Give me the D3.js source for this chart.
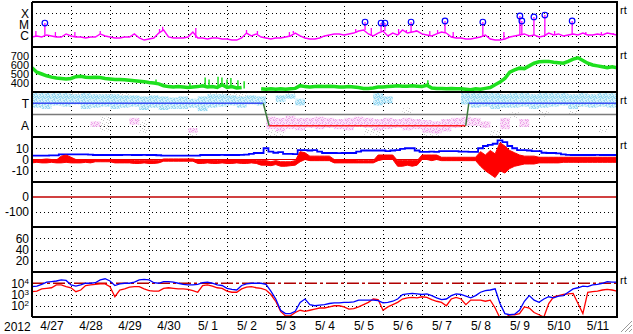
<!DOCTYPE html>
<html><head><meta charset="utf-8">
<script src="https://cdn.jsdelivr.net/npm/d3@7"></script>
<style>body{margin:0;background:#fff}svg{display:block}text{font-family:"Liberation Sans",Arial,sans-serif;fill:#000}</style>
</head><body><svg id="c" width="633" height="334"></svg>
<script>
// ---------------- DATA ----------------
const yearLabel = "2012";
const dayLabels = ["4/27","4/28","4/29","4/30","5/ 1","5/ 2","5/ 3","5/ 4","5/ 5","5/ 6","5/ 7","5/ 8","5/ 9","5/10","5/11"];
const STEP = 0.125; // days between samples (3 h), start 2012-04-27 00UT
const BIN = 0.25;   // days per polarity bin (6 h)

// GOES X-ray flux, log10 W/m2
const xrayLog = [
-6.11,-6.02,-6.11,-5.93,-6.02,-6.11,-6.11,-5.84,-6.02,-6.11,
-6.11,-6.20,-6.11,-6.11,-5.84,-6.02,-6.11,-6.20,-6.20,-6.11,
-6.11,-5.84,-6.20,-6.38,-6.29,-6.20,-5.76,-5.49,-6.11,-6.20,
-6.20,-6.20,-6.11,-5.67,-6.20,-6.20,-6.29,-6.20,-6.20,-6.29,
-6.29,-6.38,-6.38,-6.20,-5.76,-6.02,-5.84,-6.11,-6.20,-6.29,
-6.20,-6.20,-6.11,-6.02,-5.76,-6.02,-6.20,-6.29,-6.29,-6.20,
-6.02,-5.93,-5.84,-5.84,-5.93,-5.84,-5.76,-5.58,-5.49,-5.84,
-6.02,-5.76,-5.58,-6.02,-5.76,-5.93,-5.49,-5.76,-5.67,-5.58,
-5.84,-5.93,-6.02,-5.84,-5.67,-5.76,-6.11,-6.20,-6.20,-6.29,
-6.29,-6.20,-6.11,-5.93,-6.29,-6.38,-6.38,-6.29,-6.11,-6.02,
-5.93,-5.84,-6.02,-5.93,-6.11,-6.02,-5.76,-5.93,-5.84,-6.02,
-5.93,-5.84,-5.93,-5.76,-5.93,-5.93,-5.84,-5.93,-5.76,-5.84,
-5.93];
// X-ray spikes [day, log10 peak]; peaks >= M class get a circle
const xraySpikes = [
[0.10,-5.58],[0.33,-4.87],[0.60,-5.67],[1.10,-5.67],[1.75,-5.58],[3.27,-5.40],[3.35,-5.20],
[4.20,-5.31],[5.50,-5.49],[5.78,-5.58],[6.60,-5.67],[6.70,-5.58],[8.30,-5.40],[8.54,-4.78],
[8.70,-5.30],[8.95,-4.87],[9.05,-4.87],[9.40,-5.40],[9.60,-5.49],[9.72,-4.78],[9.85,-5.49],
[10.20,-5.58],[10.40,-5.49],[10.59,-4.69],[10.80,-5.67],[11.56,-4.78],[12.10,-5.67],
[12.51,-4.24],[12.56,-4.69],[12.87,-4.33],[13.15,-4.16],[13.40,-5.58],[13.85,-4.69],
[14.20,-5.67],[14.60,-5.67],[14.90,-5.76]];

// Solar wind speed km/s
const windSpeed = [
570,520,500,480,465,455,450,445,450,470,
475,465,460,465,460,450,445,440,440,435,
430,425,420,415,405,400,390,370,360,355,
360,355,350,355,360,370,355,360,350,380,
350,360,345,350,null,null,null,335,330,335,
330,335,330,335,340,370,360,355,360,365,
360,365,360,355,355,360,355,350,340,340,
345,355,355,360,365,370,365,365,370,365,
360,375,345,340,340,335,340,335,335,330,
325,335,330,340,350,380,410,450,520,545,
565,560,590,620,635,640,640,630,625,620,
640,665,680,650,620,600,590,580,570,580,
570];
const windSpikes = [[3.18,440],[4.05,400],[4.44,460],[4.54,440],[4.77,470],[4.87,460],[5.00,440],[5.10,455],[5.28,430],[5.44,420],[10.15,430]];

// IMF polarity scatter bands (6-h bins): [hi, lo] in panel units (T=+1, A=-1)
const towardBand = [
[1.95,0.6],[1.95,0.5],[1.9,0.8],[1.9,0.7],[1.8,0.9],[1.9,0.5],[1.8,0.6],[1.8,0.7],[1.8,0.5],[1.7,0.6],
[1.7,0.7],[1.6,0.4],[1.7,0.6],[1.6,0.4],[1.5,0.5],[1.6,0.5],[1.4,0.6],[1.6,0.3],[1.8,0.6],[1.8,0.7],
[1.7,0.8],[1.6,0.6],[1.7,0.9],[1.6,0.8],null,[1.7,1.1],[1.8,1.4],[1.4,0.8],null,null,
null,null,null,null,null,[1.9,0.8],[1.6,1.0],null,null,null,
null,null,null,null,[1.9,0.9],[1.9,0.6],[1.9,0.7],[1.9,0.5],[1.8,0.6],[1.9,0.6],
[1.9,0.7],[1.8,0.5],[1.9,0.6],[1.9,0.7],[1.9,0.8],[1.8,0.5],[1.9,0.7],[1.8,0.6],[1.9,0.7],[1.9,0.6]];
const awayBand = [
null,null,null,null,null,null,[-0.6,-1.1],null,null,null,
[-0.3,-0.9],null,null,null,null,null,[-1.2,-1.6],null,null,null,
null,null,null,null,[-0.2,-1.3],[-0.3,-1.5],[-0.1,-1.3],[-0.3,-1.4],[-0.3,-1.2],[-0.2,-1.3],
[-0.3,-1.2],[-0.4,-1.3],[-0.3,-1.4],[-0.2,-1.1],[-0.3,-1.2],[-0.4,-1.4],[-0.3,-1.3],[-0.4,-1.2],[-0.3,-1.4],[-0.4,-1.3],
[-0.5,-1.6],[-0.6,-1.7],[-0.4,-1.5],[-0.3,-1.2],[-0.2,-1.0],[-0.3,-1.0],[-0.6,-1.2],null,[-0.3,-1.3],null,
[-0.4,-1.1],null,null,null,null,null,null,null,null,null];
const grayBand = [
null,null,[1.9,1.4],[1.9,1.3],[1.9,1.2],[1.2,0.4],null,[-0.2,-1.5],null,[1.9,1.3],
null,[-0.5,-1.7],null,null,null,null,[-1.6,-1.9],null,[2.0,1.3],[2.0,1.2],
[2.0,1.0],[1.9,1.4],null,null,[-1.4,-1.9],[-1.5,-1.9],[1.9,1.5],null,null,null,
null,null,null,null,[-1.3,-1.8],[-1.0,-1.9],null,null,[0.6,0.1],null,
[-1.5,-1.9],[-1.5,-1.9],null,null,null,null,null,[-1.4,-1.9],null,[0.2,-0.3],
null,null,[0.3,-0.2],null,null,[0.3,0.0],null,null,[-1.3,-1.6],null];
// sector polarity line
const sectorDay = [0, 5.93, 6.08, 11.12, 11.2, 15];
const sectorPol = [1, 1, -1, -1, 1, 1];

// IMF Bt and Bz (nT)
const bt = [
3.4,3.4,3.5,3.5,3.6,3.6,4.6,4.6,4.5,4.6,
4.5,4.5,4.4,4,4,4,4,4,4,4.2,
4.2,4,4,4.1,4,4,3.8,3.4,3.4,3.4,
3.5,3.4,3.4,3.5,3.4,4,4,4,4,4.1,
4,4,4,4.2,4.3,5,5.8,5.8,10,7,
6,6.5,5,5,4.8,8.4,8.4,8,8.4,7,
5.8,5.8,5.8,5.6,5.8,5.8,5.8,7,8,8,
8,8,8,7.5,8,8.4,9.5,10,10,8,
6.7,6.7,7,6.7,7.5,7.5,7.5,7.5,7,7,
6.7,6.7,10,12,13,14,17,15.5,12,10,
8.4,8.4,8,7.5,7.5,6,5.8,5.8,5.5,4.5,
4.2,4,4,4,4,4,4.1,4,4,4,
4];
const bzLo = [
-3,-2.5,-3,-3,-2.5,-3,-3,-2.5,-3,-3,
-3,-2.5,-3,-2,-2,-2,-2,-3,-3,-3,
-3,-3.5,-3.5,-3,-3.5,-3.5,-3,-1.5,-1.5,-1.5,
-1.5,-1.5,-1.5,-1.5,-3.5,-3.5,-3,-3.5,-3.5,-3,
-3.5,-3.5,-3,-3.5,-3.5,-3,-3.5,-5,-5,-5.5,
-4.5,-6,-6,-5.5,-5,-2,0,-1,-1,-1,
-1,-1,-3,-3,-3,-3,-3,-3,-3,-3,
-3,-1,0,0,0,-6,-6,-5,-6,-5,
0,0,-1,0,-1,-1,-1,-1,-1,-1,
-1,-1,-6,-10,-13,-16,-10,-12,-8,-6,
-5,-4,-4,-4,-3,-3,-3,-3,-3,-2.5,
-2.5,-2.5,-2.5,-2.5,-2.5,-2.5,-2.5,-2.5,-2.5,-2.5,
-2.5];
const bzHi = [
0,-0.5,0,0.5,0,-0.5,3,4,2,0,
0,-0.5,0,0,0,0,0,-0.5,-0.5,-0.5,
-0.5,-1,-1,-1,-1,-1,-1,0.5,0.5,0.5,
0.5,0.5,0.5,0.5,-0.5,-0.5,-0.5,-0.5,-1,-0.5,
-0.5,-0.5,-0.5,-0.5,-0.5,-0.5,-1,-1,-1,-2,
-1,-2,-2,-2,-1,7,6,3,3,3,
3,3,0,0,0,0,0,-1,-1,-1,
-1,4,4,4,4,-1,-1,-1,-1,-1,
4,4,4,4,2,2,2,2,2,2,
2,2,7,4,8,5,15,12,8,6,
4,3,3,3,2,2,2,2,2,2,
2,2,2,2,2,2,2,2,2,2,
2];

// Dst (nT) reference and electron flux (log10)
const dstLevel = 0;
const electronHi = [
3.7,3.75,3.9,4.1,4.15,4.2,4.3,4.25,3.85,3.75,
3.85,4.0,4.0,4.05,4.3,4.4,4.2,3.8,3.95,4.0,
4.0,4.1,4.3,4.35,4.3,4.05,4.0,4.15,4.15,4.1,
4.0,3.9,3.85,3.85,3.9,4.05,4.1,4.0,3.85,3.8,
3.55,3.45,3.4,3.8,3.95,4.0,4.0,4.0,3.9,3.3,
2.6,1.6,1.3,1.3,1.5,2.3,2.6,2.1,2.0,2.05,
2.1,2.2,2.25,2.25,2.3,2.3,2.35,2.5,2.5,2.5,
2.5,2.45,2.25,2.3,2.4,2.6,3.0,3.05,3.1,3.05,
3.0,3.05,2.9,2.7,2.55,2.6,2.9,3.05,3.0,2.85,
2.7,2.9,3.2,3.35,3.4,3.5,2.2,1.3,1.2,1.25,
1.6,2.4,2.9,2.5,2.3,2.6,2.8,2.7,2.85,2.9,
3.2,3.5,3.6,3.75,3.7,3.85,3.9,4.0,4.15,4.1,
4.1];
const electronLo = [
3.25,3.3,3.5,3.55,3.6,3.85,3.85,3.7,3.6,3.25,
3.4,3.8,3.85,3.9,3.95,3.95,3.7,2.8,3.4,3.5,
3.65,3.7,3.7,3.5,3.35,3.3,3.3,3.55,3.6,3.55,
3.5,3.5,3.45,3.35,3.2,3.8,3.85,3.75,3.6,3.55,
3.3,3.2,3.2,3.5,3.65,3.7,3.6,3.55,3.4,3.0,
2.4,1.5,1.1,1.1,1.4,1.6,1.5,1.6,1.7,1.8,
1.8,1.9,2.0,2.0,1.9,1.7,1.75,1.9,2.1,2.3,
2.6,2.55,1.6,1.9,2.1,2.3,2.6,2.7,2.75,2.7,
2.8,2.75,2.55,2.4,2.3,2.0,2.6,2.75,2.6,2.1,
2.5,2.5,2.5,2.4,2.5,1.8,0.9,0.9,1.2,1.2,
1.3,1.9,1.8,1.4,1.2,1.0,2.2,2.8,2.9,3.0,
3.05,3.1,2.2,1.3,3.2,3.25,3.3,3.4,3.45,3.4,
3.3];
const electronThreshold = 4;

// tick labels
const xrayTicks = [["X",-4],["M",-5],["C",-6]];
const windTicks = [700,600,500,400];
const polTicks = [["T",1],["A",-1]];
const bTicks = [10,0,-10];
const dstTicks = [0,-100];
const p6Ticks = [60,40,20];
const eTicks = [4,3,2];

// ---------------- DRAW ----------------
const svg = d3.select("#c");
const L = 32, R = 617, PH = 45;
const tops = [2,47,92,137,182,227,272];
const x = d3.scaleLinear().domain([0,15]).range([L,R]);
const tAt = i => i*STEP;

const yX  = d3.scaleLinear().domain([-3,-7]).range([tops[0],tops[0]+PH]);
const yW  = d3.scaleLinear().domain([800,300]).range([tops[1],tops[1]+PH]);
const yP  = d3.scaleLinear().domain([2,-2]).range([tops[2],tops[2]+PH]);
const yB  = d3.scaleLinear().domain([20,-20]).range([tops[3],tops[3]+PH]);
const yD  = d3.scaleLinear().domain([100,-200]).range([tops[4],tops[4]+PH]);
const y6  = d3.scaleLinear().domain([80,0]).range([tops[5],tops[5]+PH]);
const yE  = d3.scaleLog().domain([1e5,1e1]).range([tops[6],tops[6]+PH]);

const defs = svg.append("defs");
tops.forEach((tp,i)=>{
  defs.append("clipPath").attr("id","cp"+i).append("rect")
    .attr("x",L).attr("y",tp).attr("width",R-L).attr("height",PH);
});
function pat(id,base,color,pts,w,h){
  const p = defs.append("pattern").attr("id",id).attr("patternUnits","userSpaceOnUse").attr("width",w).attr("height",h);
  if(base) p.append("rect").attr("width",w).attr("height",h).attr("fill",base);
  pts.forEach(([a,b,c,d])=>p.append("rect").attr("x",a).attr("y",b).attr("width",c).attr("height",d).attr("fill",color));
}
pat("pB","#d8f2fb","#98d8f2",[[0,0,2,1],[3,0,1,1],[5,0,1,2],[1,1,1,1],[4,1,1,1],[2,2,2,1],[0,3,1,2],[5,3,1,1],[3,4,2,1],[1,5,1,1],[4,5,1,1],[2,1,1,1],[0,2,1,1]],6,6);
pat("pA","#fbe2f9","#eea6ea",[[0,0,1,1],[3,0,2,1],[1,2,1,1],[4,2,1,2],[2,3,1,1],[0,4,2,1],[3,5,1,1],[5,5,1,1],[5,1,1,1]],6,6);
pat("pG",null,"#c4c4c4",[[1,0,1,1],[4,2,1,1],[2,4,1,1],[5,5,1,1],[0,3,1,1]],6,6);

const grid = svg.append("g").attr("shape-rendering","crispEdges");
function hdot(scale, vals){
  vals.forEach(v=>{
    const yy = Math.round(scale(v))+0.5;
    grid.append("line").attr("x1",L).attr("x2",R).attr("y1",yy).attr("y2",yy)
      .attr("stroke","#000").attr("stroke-dasharray","1,3");
  });
}

// Panel 3 bands drawn first (under grid)
const g3b = svg.append("g").attr("clip-path","url(#cp2)");
function bands(arr, fill){
  arr.forEach((b,k)=>{
    if(!b) return;
    g3b.append("rect").attr("x",x(k*BIN)).attr("width",x(BIN)-x(0))
      .attr("y",yP(b[0])).attr("height",yP(b[1])-yP(b[0])).attr("fill",fill);
  });
}
bands(grayBand,"url(#pG)");
bands(towardBand,"url(#pB)");
bands(awayBand,"url(#pA)");

hdot(yX, xrayTicks.map(d=>d[1]));
hdot(yW, windTicks);
hdot(yP, polTicks.map(d=>d[1]));
hdot(yB, [10,-10]);
hdot(yD, [-100]);
hdot(y6, p6Ticks);
hdot(yE, [1e3,1e2]);
d3.range(1,15).forEach(d=>{
  const xx = Math.round(x(d))+0.5;
  grid.append("line").attr("x1",xx).attr("x2",xx).attr("y1",tops[0]).attr("y2",tops[6]+PH)
    .attr("stroke","#000").attr("stroke-dasharray","1,3");
});

// Panel 1: X-ray
const g1 = svg.append("g").attr("clip-path","url(#cp0)");
g1.selectAll("line.sp").data(xraySpikes).join("line")
  .attr("x1",d=>x(d[0])).attr("x2",d=>x(d[0]))
  .attr("y1",d=>yX(xrayLog[Math.round(d[0]/STEP)])).attr("y2",d=>yX(d[1]))
  .attr("stroke","#ff00ff").attr("stroke-width",1.3);
g1.append("path").datum(xrayLog)
  .attr("d", d3.line().x((d,i)=>x(tAt(i))).y(d=>yX(d)))
  .attr("fill","none").attr("stroke","#ff00ff").attr("stroke-width",1.4);
g1.selectAll("circle").data(xraySpikes.filter(d=>d[1]>=-5)).join("circle")
  .attr("cx",d=>x(d[0])).attr("cy",d=>yX(d[1])).attr("r",2.8)
  .attr("fill","none").attr("stroke","#0000ff").attr("stroke-width",1.2);

// Panel 2: wind speed
const g2 = svg.append("g").attr("clip-path","url(#cp1)");
g2.selectAll("line").data(windSpikes).join("line")
  .attr("x1",d=>x(d[0])).attr("x2",d=>x(d[0]))
  .attr("y1",d=>yW(windSpeed[Math.round(d[0]/STEP)] || 340)).attr("y2",d=>yW(d[1]))
  .attr("stroke","#1ee01e").attr("stroke-width",1.5);
g2.append("path").datum(windSpeed)
  .attr("d", d3.line().defined(d=>d!=null).x((d,i)=>x(tAt(i))).y(d=>yW(d)))
  .attr("fill","none").attr("stroke","#1ee01e").attr("stroke-width",3.5);

// Panel 3: polarity lines
const g3 = svg.append("g").attr("clip-path","url(#cp2)");
g3.append("line").attr("x1",L).attr("x2",R).attr("y1",yP(0)).attr("y2",yP(0))
  .attr("stroke","#7a7a7a").attr("stroke-width",1.5);
for(let i=0;i<sectorDay.length-1;i++){
  const a=sectorPol[i], b=sectorPol[i+1];
  const col = (a===b) ? (a>0 ? "#3a4cf2" : "#ff2020") : "#3c7a3c";
  g3.append("line").attr("x1",x(sectorDay[i])).attr("x2",x(sectorDay[i+1]))
    .attr("y1",yP(a)).attr("y2",yP(b)).attr("stroke",col).attr("stroke-width",1.5);
}

// Panel 4: Bt/Bz
const g4 = svg.append("g").attr("clip-path","url(#cp3)");
g4.append("line").attr("x1",L).attr("x2",R).attr("y1",yB(0)).attr("y2",yB(0))
  .attr("stroke","#e00000").attr("stroke-width",1);
g4.append("path").datum(bt)
  .attr("d", d3.line().curve(d3.curveStep).x((d,i)=>x(tAt(i))).y(d=>yB(d)))
  .attr("fill","none").attr("stroke","#0000ff").attr("stroke-width",1.8);
g4.append("path").datum(bzLo.map((v,i)=>[v,bzHi[i]]))
  .attr("d", d3.area().x((d,i)=>x(tAt(i))).y0(d=>yB(d[0])).y1(d=>yB(d[1])))
  .attr("fill","#ff0000").attr("stroke","#ff0000").attr("stroke-width",1);

// Panel 5: Dst
const g5 = svg.append("g").attr("clip-path","url(#cp4)");
g5.append("line").attr("x1",L).attr("x2",R).attr("y1",yD(dstLevel)).attr("y2",yD(dstLevel))
  .attr("stroke","#c00000").attr("stroke-width",1.5);

// Panel 7: electrons
const g7 = svg.append("g").attr("clip-path","url(#cp6)");
g7.append("line").attr("x1",L).attr("x2",R).attr("y1",yE(10**electronThreshold)).attr("y2",yE(10**electronThreshold))
  .attr("stroke","#b00000").attr("stroke-width",1.3).attr("stroke-dasharray","12,3,3,3");
const eLine = d3.line().x((d,i)=>x(tAt(i))).y(d=>yE(10**d));
g7.append("path").datum(electronLo).attr("d",eLine).attr("fill","none").attr("stroke","#ff0000").attr("stroke-width",1.3);
g7.append("path").datum(electronHi).attr("d",eLine).attr("fill","none").attr("stroke","#0000ff").attr("stroke-width",1.3);

// borders
const bd = svg.append("g").attr("shape-rendering","crispEdges");
tops.concat([tops[6]+PH]).forEach(tp=>{
  bd.append("line").attr("x1",L).attr("x2",R+1).attr("y1",tp).attr("y2",tp).attr("stroke","#000").attr("stroke-width",2);
});
[L,R].forEach(xx=>{
  bd.append("line").attr("x1",xx).attr("x2",xx).attr("y1",tops[0]).attr("y2",tops[6]+PH).attr("stroke","#000").attr("stroke-width",2);
});

// y labels
const lab = svg.append("g").attr("font-size",12).attr("text-anchor","end");
function ylabels(scale, ticks, fs){
  ticks.forEach(t=>{
    const [txt,v] = Array.isArray(t) ? t : [String(t),t];
    const el = lab.append("text").attr("x",29).attr("y",scale(v)).attr("dy","0.36em").text(txt);
    if(fs) el.attr("font-size",fs);
  });
}
ylabels(yX, xrayTicks);
ylabels(yW, windTicks, 11);
ylabels(yP, polTicks);
ylabels(yB, bTicks);
ylabels(yD, dstTicks);
ylabels(y6, p6Ticks);
eTicks.forEach(p=>{
  const t = lab.append("text").attr("x",29).attr("y",yE(10**p)).attr("dy","0.36em");
  t.append("tspan").text("10");
  t.append("tspan").attr("font-size",8).attr("dy","-0.5em").text(p);
});

// rt markers
[0,1,2,3,6].forEach(i=>{
  svg.append("text").attr("x",620).attr("y",tops[i]+12).attr("font-size",11).text("rt");
});

// x axis labels
const ax = svg.append("g").attr("transform",`translate(0,${tops[6]+PH})`)
  .call(d3.axisBottom(x).tickValues(dayLabels.map((d,i)=>i+0.5)).tickSize(0).tickPadding(4)
    .tickFormat((d,i)=>dayLabels[i]));
ax.select(".domain").remove();
ax.selectAll("text").attr("font-size",12).attr("font-family",'"Liberation Sans",Arial,sans-serif').attr("fill","#000");
svg.append("text").attr("x",4).attr("y",331).attr("font-size",12).text(yearLabel);

// resize grip
const grip = svg.append("g").attr("stroke","#999").attr("stroke-width",1);
[[632,321,621,332],[632,325,625,332],[632,329,629,332]].forEach(([a,b,c,d])=>{
  grip.append("line").attr("x1",a).attr("y1",b).attr("x2",c).attr("y2",d);
});
</script>
</body></html>
